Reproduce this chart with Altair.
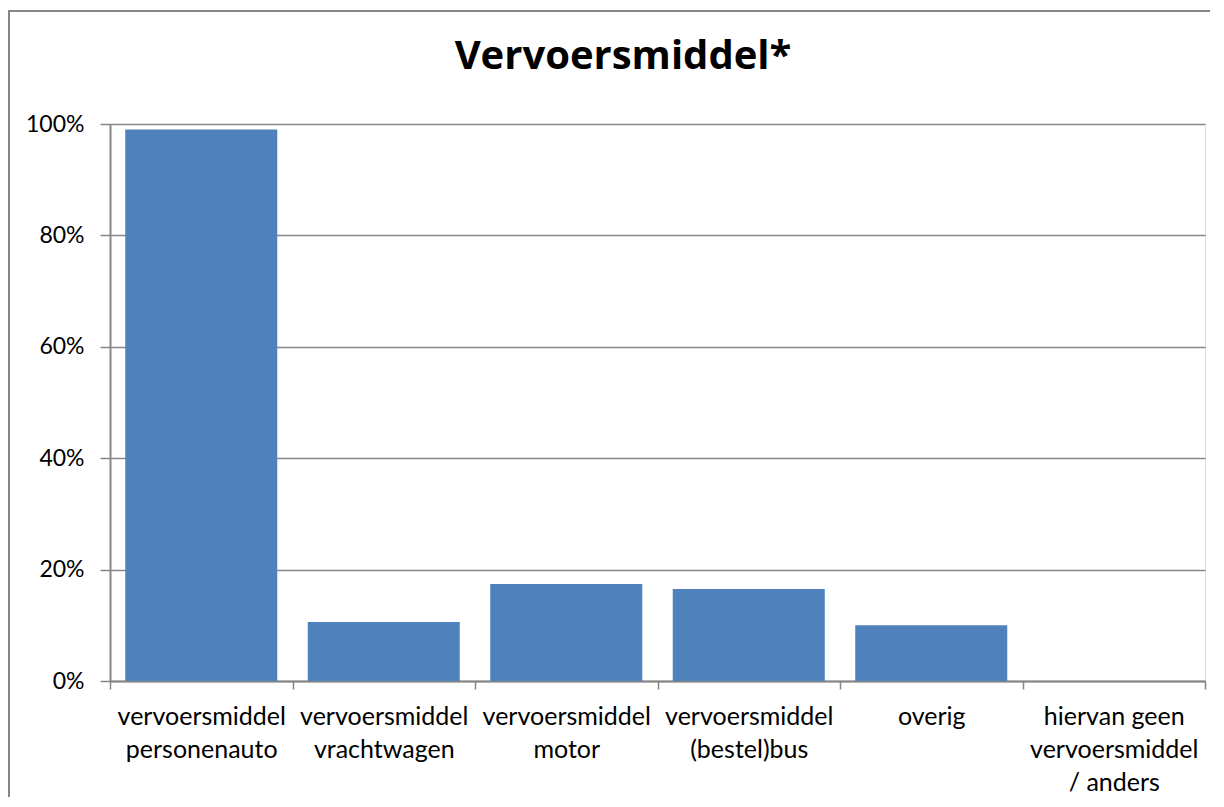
import altair as alt
import pandas as pd

categories = [
    "vervoersmiddel|personenauto",
    "vervoersmiddel|vrachtwagen",
    "vervoersmiddel|motor",
    "vervoersmiddel|(bestel)bus",
    "overig",
    "hiervan geen|vervoersmiddel|/ anders",
]
values = [0.99, 0.106, 0.174, 0.165, 0.10, 0.0]
y_ticks = [0, 0.2, 0.4, 0.6, 0.8, 1.0]
title_text = "Vervoersmiddel*"

df = pd.DataFrame({"cat": categories, "val": values})

GRAY = "#868686"
FONT = "Lato"
W, H = 1095, 557

bars = alt.Chart(df).mark_bar(
    color="#4F81BD", width=alt.RelativeBandSize(0.833)
).encode(
    x=alt.X(
        "cat:N",
        sort=None,
        title=None,
        scale=alt.Scale(paddingInner=0, paddingOuter=0),
        axis=alt.Axis(
            labelAngle=0,
            labelExpr="split(datum.label, '|')",
            labelFont=FONT,
            labelFontSize=25,
            labelColor="black",
            labelLineHeight=33,
            labelBaseline="top",
            labelPadding=15,
            labelLimit=300,
            tickBand="extent",
            tickSize=8,
            tickColor=GRAY,
            tickWidth=1.5,
            domainColor=GRAY,
            domainWidth=2,
            grid=False,
        ),
    ),
    y=alt.Y(
        "val:Q",
        title=None,
        scale=alt.Scale(domain=[0, 1], nice=False),
        axis=alt.Axis(
            values=y_ticks,
            format=".0%",
            labelFont=FONT,
            labelFontSize=23,
            labelColor="black",
            labelPadding=16,
            tickSize=10,
            tickColor=GRAY,
            tickWidth=1.5,
            domainColor=GRAY,
            domainWidth=2,
            grid=True,
            gridColor=GRAY,
            gridWidth=1.5,
        ),
    ),
)

one = pd.DataFrame({"t": [title_text]})

title = alt.Chart(one).mark_text(
    font="Open Sans", fontSize=40, fontWeight="bold", color="black",
    align="center", baseline="alphabetic",
).encode(text="t:N", x=alt.value(513), y=alt.value(-55))

border = alt.Chart(one).mark_rect(
    filled=False, stroke=GRAY, strokeWidth=2,
).encode(
    x=alt.value(-101), x2=alt.value(W + 300),
    y=alt.value(-113), y2=alt.value(H + 300),
)

chart = alt.layer(border, bars, title).properties(
    width=W, height=H,
    autosize=alt.AutoSizeParams(type="none"),
    padding={"left": 102, "top": 116, "right": 5, "bottom": 116},
).configure_view(stroke=None).configure(background="white")

chart.save("out.html", embed_options={"renderer": "svg", "actions": False})
